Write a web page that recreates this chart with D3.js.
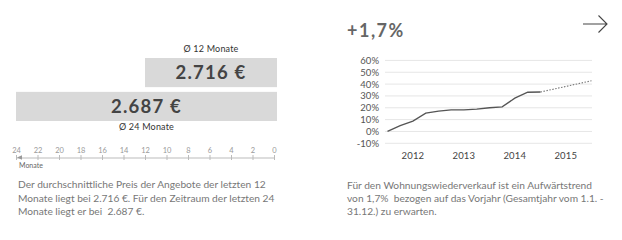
<!DOCTYPE html>
<html>
<head>
<meta charset="utf-8">
<script src="https://cdn.jsdelivr.net/npm/d3@7"></script>
<style>
  html, body { margin: 0; padding: 0; background: #fff; }
  svg { display: block; font-family: Lato, "Open Sans", sans-serif; }
  text { white-space: pre; }
</style>
</head>
<body>
<svg id="chart" width="622" height="240"></svg>
<script>
// ---- Data ----
const barMonths = [12, 24];
const barValues = ["2.716 €", "2.687 €"];
const barLabels = ["Ø 12 Monate", "Ø 24 Monate"];
const monthTicks = [24, 22, 20, 18, 16, 14, 12, 10, 8, 6, 4, 2, 0];

const quarterDates = ["2012-01-01","2012-04-01","2012-07-01","2012-10-01",
                      "2013-01-01","2013-04-01","2013-07-01","2013-10-01",
                      "2014-01-01","2014-04-01","2014-07-01","2014-10-01",
                      "2015-01-01"];
const growth = [0, 5, 8.7, 15.4, 17.1, 18.3, 18.3, 18.8, 20, 20.8, 28.1, 33.1, 33.3];
const forecastDates = ["2015-01-01", "2016-01-01"];
const forecastValues = [33.3, 42.8];
const yTicks = [-10, 0, 10, 20, 30, 40, 50, 60];
const yearLabels = [2012, 2013, 2014, 2015];

const headline = "+1,7%";
const leftText = ["Der durchschnittliche Preis der Angebote der letzten 12",
                  "Monate liegt bei 2.716 €. Für den Zeitraum der letzten 24",
                  "Monate liegt er bei  2.687 €."];
const rightText = ["Für den Wohnungswiederverkauf ist ein Aufwärtstrend",
                   "von 1,7%  bezogen auf das Vorjahr (Gesamtjahr vom 1.1. -",
                   "31.12.) zu erwarten."];

const svg = d3.select("#chart");

// ---- Left panel: bars ----
const xm = d3.scaleLinear().domain([24, 0]).range([16, 274]);
const barRight = 277;
const barY = d3.scaleBand().domain(barMonths).range([58, 121]).paddingInner(0.14);

const bars = svg.append("g");
barMonths.forEach((m, i) => {
  const x0 = xm(m);
  const y0 = barY(m);
  const h = barY.bandwidth();
  const cx = (x0 + barRight) / 2;
  bars.append("rect").attr("x", x0).attr("y", y0)
    .attr("width", barRight - x0).attr("height", h).attr("fill", "#d9d9d9");
  bars.append("text").attr("x", cx).attr("y", y0 + h / 2 + 6.5)
    .attr("text-anchor", "middle").attr("font-size", 18.5).attr("font-weight", 700)
    .attr("fill", "#444").attr("letter-spacing", 1.2).text(barValues[i]);
  const ly = i === 0 ? y0 - 6 : y0 + h + 9;
  bars.append("text").attr("x", cx).attr("y", ly)
    .attr("text-anchor", "middle").attr("font-size", 9).attr("fill", "#333")
    .attr("letter-spacing", 0.2).text(barLabels[i]);
});

// ---- Left axis ----
const axG = svg.append("g").attr("transform", "translate(0,157.5)")
  .call(d3.axisTop(xm).tickValues(monthTicks).tickSize(0).tickPadding(5));
axG.select(".domain").attr("stroke", "#bbb");
axG.selectAll(".tick line").attr("y1", -2.5).attr("y2", 2.5).attr("stroke", "#bbb");
axG.selectAll(".tick text").attr("font-size", 7.5).attr("fill", "#999")
  .attr("font-family", "Lato, sans-serif");
svg.append("path").attr("d", "M17,157.5 L22,155.2 L22,159.8 Z").attr("fill", "#999");
svg.append("text").attr("x", 19).attr("y", 168).attr("font-size", 7).attr("fill", "#666")
  .text("Monate");

svg.append("g").selectAll("text").data(leftText).join("text")
  .attr("x", 18).attr("y", (d, i) => 188 + i * 13.5)
  .attr("font-size", 10.2).attr("fill", "#777").text(d => d);

// ---- Right panel ----
svg.append("text").attr("x", 347).attr("y", 37).attr("font-size", 18)
  .attr("font-weight", 700).attr("fill", "#666").attr("letter-spacing", 1.5).text(headline);

svg.append("path").attr("d", "M583,24 L607,24 M598.5,15.5 L607,24 L598.5,32.5")
  .attr("fill", "none").attr("stroke", "#444").attr("stroke-width", 1.1);

const parse = d3.timeParse("%Y-%m-%d");
const xt = d3.scaleTime().domain([parse("2012-01-01"), parse("2016-01-01")]).range([387.5, 591.5]);
const yp = d3.scaleLinear().domain([-10, 60]).range([143.3, 60.4]);

const grid = svg.append("g");
grid.selectAll("line").data(yTicks).join("line")
  .attr("x1", 385).attr("x2", 592)
  .attr("y1", d => yp(d)).attr("y2", d => yp(d))
  .attr("stroke", "#e6e6e6").attr("stroke-width", 1);

const yAx = svg.append("g").attr("transform", "translate(379,0)")
  .call(d3.axisLeft(yp).tickValues(yTicks).tickSize(0).tickPadding(0).tickFormat(d => d + "%"));
yAx.select(".domain").remove();
yAx.selectAll("text").attr("font-size", 9.5).attr("fill", "#555").attr("font-family", "Lato, sans-serif");

svg.append("g").selectAll("text").data(yearLabels).join("text")
  .attr("x", d => xt(new Date(d, 6, 1)))
  .attr("y", 159).attr("text-anchor", "middle").attr("font-size", 9.5).attr("fill", "#444")
  .attr("letter-spacing", 0.2).text(d => d);

const line = d3.line().x(d => xt(parse(d[0]))).y(d => yp(d[1]));
svg.append("path").datum(quarterDates.map((d, i) => [d, growth[i]]))
  .attr("d", line).attr("fill", "none").attr("stroke", "#555").attr("stroke-width", 1.3);
svg.append("path").datum(forecastDates.map((d, i) => [d, forecastValues[i]]))
  .attr("d", line).attr("fill", "none").attr("stroke", "#777").attr("stroke-width", 1.1)
  .attr("stroke-dasharray", "1.5,1.5");

svg.append("g").selectAll("text").data(rightText).join("text")
  .attr("x", 347).attr("y", (d, i) => 189 + i * 13)
  .attr("font-size", 10.2).attr("fill", "#777").text(d => d);
</script>
</body>
</html>
